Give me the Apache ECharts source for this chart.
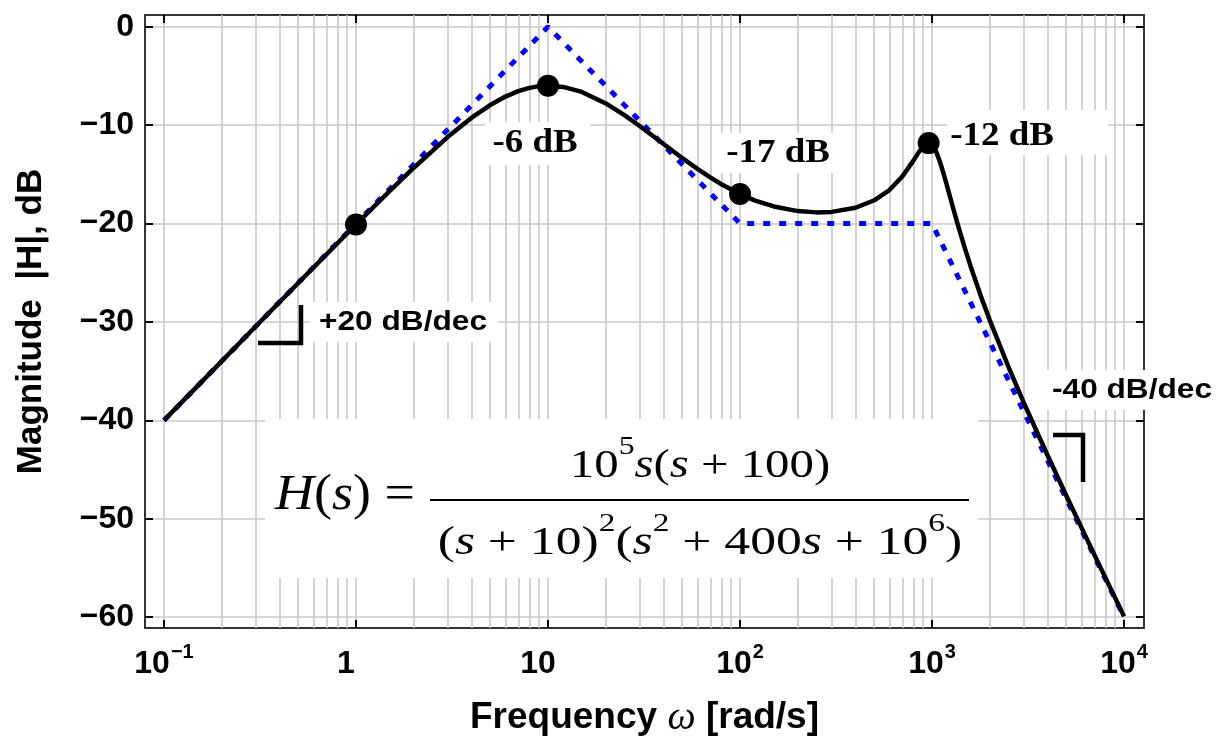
<!DOCTYPE html>
<html>
<head>
<meta charset="utf-8">
<script src="https://cdn.jsdelivr.net/npm/echarts@6/dist/echarts.min.js"></script>
<style>
html,body{margin:0;padding:0;background:#ffffff;}
#chart{width:1217px;height:743px;}
</style>
</head>
<body>
<div id="chart"></div>
<script>
// ---- data ----
const freqCurve = [0.1,0.2,0.3,0.5,1,1.5,2,3,4,5,6,7,8,9,10,12,15,20,25,30,40,50,60,70,80,100,120,150,200,250,300,400,500,600,700,800,850,900,920,940,960,980,1000,1050,1100,1150,1200,1250,1300,1350,1400,1500,1600,1800,2000,2500,3000,4000,5000,7000,10000];
const magCurve = [-40.00,-33.98,-30.46,-26.04,-20.09,-16.67,-14.32,-11.21,-9.24,-7.95,-7.09,-6.54,-6.21,-6.03,-5.98,-6.11,-6.62,-7.79,-8.98,-10.08,-11.91,-13.33,-14.44,-15.31,-16.00,-17.00,-17.66,-18.26,-18.73,-18.86,-18.81,-18.39,-17.63,-16.59,-15.22,-13.60,-12.79,-12.14,-11.96,-11.85,-11.82,-11.87,-12.00,-12.68,-13.73,-14.96,-16.25,-17.50,-18.71,-19.84,-20.90,-22.82,-24.52,-27.42,-29.83,-34.55,-38.16,-43.57,-47.63,-53.64,-59.92];
const freqAsym = [0.1, 10, 100, 1000, 10000];
const magAsym = [-40, 0, -20, -20, -60];
const freqMarked = [1, 10, 100, 960];
const magMarked = [-20.09, -5.98, -17.00, -11.82];
const xTickValues = [0.1, 1, 10, 100, 1000, 10000];
const xTickLabels = ['10^\u22121', '1', '10', '10^2', '10^3', '10^4'];
const yTickValues = [-60, -50, -40, -30, -20, -10, 0];
const yTickLabels = ['\u221260', '\u221250', '\u221240', '\u221230', '\u221220', '\u221210', '0'];
const xTitle = 'Frequency';
const xTitleSymbol = '\u03c9';
const xTitleUnit = '[rad/s]';
const yTitle = 'Magnitude  |H|, dB';
const pointLabels = ['-6 dB', '-17 dB', '-12 dB'];
const slopeLabels = ['+20 dB/dec', '-40 dB/dec'];

// ---- helpers ----
const lg = Math.log10;
const X_MIN = -1.099, X_MAX = 4.104;
const Y_MIN = -61.1, Y_MAX = 1.2;
const decLogs = xTickValues.map(lg);
const gridLogs = [];
for (let d = 0; d < xTickValues.length - 1; d++) {
  for (let k = 1; k <= 9; k++) gridLogs.push(lg(k * xTickValues[d]));
}
gridLogs.push(lg(xTickValues[xTickValues.length - 1]));

const SANS = 'Liberation Sans';
const SERIF = 'Liberation Serif';
const GRID_COLOR = '#c9c9c9';

function xLabel(v) {
  const i = decLogs.findIndex(d => Math.abs(d - v) < 1e-6);
  if (i < 0) return '';
  const parts = xTickLabels[i].split('^');
  if (parts.length === 2) return '{b|' + parts[0] + '}{s|' + parts[1] + '}';
  return '{n|' + parts[0] + '}';
}
function yLabel(v) {
  const i = yTickValues.findIndex(d => Math.abs(d - v) < 1e-6);
  return i < 0 ? '' : yTickLabels[i];
}

const frameTick = {show: true, inside: true, length: 8, lineStyle: {color: '#000', width: 2}};
const mathRich = {
  i: {fontStyle: 'italic', fontFamily: SERIF, fontSize: 40, lineHeight: 64, fill: '#000'},
  r: {fontFamily: SERIF, fontSize: 40, lineHeight: 64, fill: '#000'},
  p: {fontFamily: SERIF, fontSize: 26, lineHeight: 30, fill: '#000', verticalAlign: 'top'}
};

const chart = echarts.init(document.getElementById('chart'), null, {renderer: 'canvas'});

const option = {
  animation: false,
  backgroundColor: '#ffffff',
  grid: {left: 145, right: 73, top: 15, bottom: 110, show: true, borderColor: '#333333', borderWidth: 2, backgroundColor: 'transparent'},
  xAxis: [
    {
      type: 'value', min: X_MIN, max: X_MAX, position: 'bottom',
      axisLine: {show: false, onZero: false},
      axisTick: Object.assign({customValues: decLogs}, frameTick),
      axisLabel: {
        customValues: decLogs, formatter: xLabel, margin: 14,
        color: '#000', fontFamily: SANS, fontWeight: 'bold', fontSize: 32, lineHeight: 44,
        rich: {
          b: {fontFamily: SANS, fontWeight: 'bold', fontSize: 32, lineHeight: 44, color: '#000'},
          s: {fontFamily: SANS, fontWeight: 'bold', fontSize: 20, lineHeight: 22, color: '#000', verticalAlign: 'top', padding: [0, 0, 0, 1]},
          n: {fontFamily: SANS, fontWeight: 'bold', fontSize: 32, lineHeight: 44, color: '#000', padding: [0, 20, 0, 0]}
        }
      },
      splitLine: {show: false},
      name: xTitle + ' {w|' + xTitleSymbol + '} ' + xTitleUnit,
      nameLocation: 'middle', nameGap: 70,
      nameTextStyle: {
        color: '#000', fontFamily: SANS, fontWeight: 'bold', fontSize: 37,
        rich: {w: {fontFamily: SERIF, fontStyle: 'italic', fontWeight: 'normal', fontSize: 40, color: '#000'}}
      }
    },
    {
      type: 'value', min: X_MIN, max: X_MAX, position: 'bottom',
      axisLine: {show: false, onZero: false},
      axisTick: {show: false, customValues: gridLogs},
      axisLabel: {show: false},
      splitLine: {show: true, customValues: gridLogs, lineStyle: {color: GRID_COLOR, width: 1.6}}
    },
    {
      type: 'value', min: X_MIN, max: X_MAX, position: 'top',
      axisLine: {show: false, onZero: false},
      axisTick: Object.assign({customValues: decLogs}, frameTick),
      axisLabel: {show: false},
      splitLine: {show: false}
    }
  ],
  yAxis: [
    {
      type: 'value', min: Y_MIN, max: Y_MAX, position: 'left',
      axisLine: {show: false, onZero: false},
      axisTick: Object.assign({customValues: yTickValues}, frameTick),
      axisLabel: {customValues: yTickValues, formatter: yLabel, margin: 11, color: '#000', fontFamily: SANS, fontWeight: 'bold', fontSize: 32},
      splitLine: {show: true, customValues: yTickValues, lineStyle: {color: GRID_COLOR, width: 1.6}},
      name: yTitle, nameLocation: 'middle', nameGap: 96, nameRotate: 90,
      nameTextStyle: {color: '#000', fontFamily: SANS, fontWeight: 'bold', fontSize: 35}
    },
    {
      type: 'value', min: Y_MIN, max: Y_MAX, position: 'right',
      axisLine: {show: false, onZero: false},
      axisTick: Object.assign({customValues: yTickValues}, frameTick),
      axisLabel: {show: false},
      splitLine: {show: false}
    }
  ],
  series: [
    {
      type: 'line', xAxisIndex: 0, yAxisIndex: 0, z: 3,
      data: freqAsym.map((f, i) => [lg(f), magAsym[i]]),
      symbol: 'none',
      lineStyle: {color: '#0000ff', width: 5, type: [7, 9], cap: 'butt'}
    },
    {
      type: 'line', xAxisIndex: 0, yAxisIndex: 0, z: 4,
      data: freqCurve.map((f, i) => [lg(f), magCurve[i]]),
      symbol: 'none', smooth: false,
      lineStyle: {color: '#000000', width: 4.5, join: 'round'}
    },
    {
      type: 'scatter', xAxisIndex: 0, yAxisIndex: 0, z: 5,
      data: freqMarked.map((f, i) => [lg(f), magMarked[i]]),
      symbolSize: 22,
      itemStyle: {color: '#000000', opacity: 1}
    }
  ],
  graphic: {
    elements: [
      // formula panel
      {type: 'rect', z: 50, shape: {x: 265, y: 419, width: 713, height: 159}, style: {fill: '#ffffff'}},
      {type: 'text', z: 51, x: 275, y: 496, scaleX: 1.08,
        style: {text: '{i|H}(' + '{i|s}) =', fill: '#000', font: '50px "' + SERIF + '"', align: 'left', verticalAlign: 'middle',
          rich: {i: {fontStyle: 'italic', fontFamily: SERIF, fontSize: 50, fill: '#000'}}}},
      {type: 'text', z: 51, x: 700, y: 466, scaleX: 1.22,
        style: {text: '{r|10}{p|5}{i|s}{r|(}{i|s}{r| + 100)}', fill: '#000', font: '40px "' + SERIF + '"', align: 'center', verticalAlign: 'middle',
          rich: mathRich}},
      {type: 'line', z: 51, shape: {x1: 430, y1: 500, x2: 969, y2: 500}, style: {stroke: '#000', lineWidth: 2}},
      {type: 'text', z: 51, x: 700, y: 543, scaleX: 1.29,
        style: {text: '{r|(}{i|s}{r| + 10)}{p|2}{r|(}{i|s}{p|2}{r| + 400}{i|s}{r| + 10}{p|6}{r|)}', fill: '#000', font: '40px "' + SERIF + '"', align: 'center', verticalAlign: 'middle',
          rich: mathRich}},
      // point annotations
      {type: 'rect', z: 50, shape: {x: 485, y: 122, width: 105, height: 43}, style: {fill: '#ffffff'}},
      {type: 'text', z: 51, x: 535, y: 143, scaleX: 1.12,
        style: {text: pointLabels[0], fill: '#000', font: 'bold 33px "' + SERIF + '"', align: 'center', verticalAlign: 'middle'}},
      {type: 'rect', z: 50, shape: {x: 720, y: 133, width: 118, height: 40}, style: {fill: '#ffffff'}},
      {type: 'text', z: 51, x: 778, y: 153, scaleX: 1.12,
        style: {text: pointLabels[1], fill: '#000', font: 'bold 33px "' + SERIF + '"', align: 'center', verticalAlign: 'middle'}},
      {type: 'rect', z: 50, shape: {x: 947, y: 110, width: 161, height: 45}, style: {fill: '#ffffff'}},
      {type: 'text', z: 51, x: 1002, y: 136, scaleX: 1.12,
        style: {text: pointLabels[2], fill: '#000', font: 'bold 33px "' + SERIF + '"', align: 'center', verticalAlign: 'middle'}},
      // slope annotations
      {type: 'rect', z: 50, shape: {x: 310, y: 302, width: 188, height: 40}, style: {fill: '#ffffff'}},
      {type: 'text', z: 51, x: 403, y: 322, scaleX: 1.13,
        style: {text: slopeLabels[0], fill: '#000', font: 'bold 28px "' + SANS + '"', align: 'center', verticalAlign: 'middle'}},
      {type: 'polyline', z: 51, shape: {points: [[258, 343], [301, 343], [301, 305]]}, style: {stroke: '#000', lineWidth: 4.5, fill: null}},
      {type: 'rect', z: 50, shape: {x: 1045, y: 370, width: 172, height: 40}, style: {fill: '#ffffff'}},
      {type: 'text', z: 51, x: 1132, y: 390, scaleX: 1.13,
        style: {text: slopeLabels[1], fill: '#000', font: 'bold 28px "' + SANS + '"', align: 'center', verticalAlign: 'middle'}},
      {type: 'polyline', z: 51, shape: {points: [[1053, 435], [1083, 435], [1083, 482]]}, style: {stroke: '#000', lineWidth: 4.5, fill: null}}
    ]
  }
};
chart.setOption(option);
</script>
</body>
</html>
